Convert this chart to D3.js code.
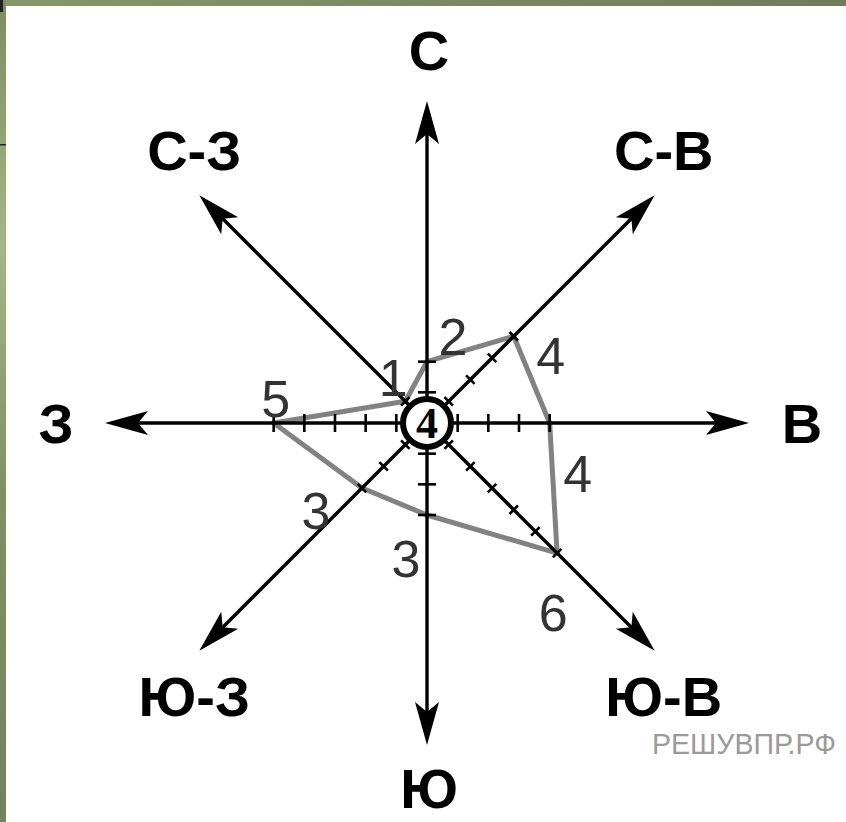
<!DOCTYPE html>
<html>
<head>
<meta charset="utf-8">
<script src="https://cdn.jsdelivr.net/npm/d3@7/dist/d3.min.js"></script>
<style>
    body { margin: 0; background: #fff; }
    svg { display: block; }
</style>
</head>
<body>
<div id="chart"></div>
<script>
// роза ветров: число дней с ветром каждого направления
var directions = ['С', 'С-В', 'В', 'Ю-В', 'Ю', 'Ю-З', 'З', 'С-З'];
var days = [2, 4, 4, 6, 3, 3, 5, 1];
var calm = 4; // штиль, в кружке
var angles = [0, 45, 90, 135, 180, 225, 270, 315];

// сдвиг подписи числа от вершины (px)
var labelShift = [[26, -25], [37, 19], [28, 50], [-4, 59], [-21, 43], [-46, 22], [2, -25], [-12, -24]];

var width = 846, height = 822;
var cx = 427, cy = 423;
var axisLen = 322;

var r = d3.scaleLinear().domain([0, 6]).range([0, 184]);

var svg = d3.select('#chart').append('svg')
    .attr('width', width)
    .attr('height', height);

var defs = svg.append('defs');
var gTop = defs.append('linearGradient').attr('id', 'gTop');
gTop.append('stop').attr('offset', '0%').attr('stop-color', '#85976a');
gTop.append('stop').attr('offset', '100%').attr('stop-color', '#6f7c5a');
var gLeft = defs.append('linearGradient').attr('id', 'gLeft')
    .attr('x1', 0).attr('y1', 0).attr('x2', 0).attr('y2', 1);
gLeft.append('stop').attr('offset', '0%').attr('stop-color', '#7d8c5f');
gLeft.append('stop').attr('offset', '30%').attr('stop-color', '#a3b785');
gLeft.append('stop').attr('offset', '60%').attr('stop-color', '#7f9065');
gLeft.append('stop').attr('offset', '100%').attr('stop-color', '#728360');

svg.append('rect').attr('width', width).attr('height', height).attr('fill', '#fff');
svg.append('rect').attr('x', 0).attr('y', 0).attr('width', width).attr('height', 6).attr('fill', 'url(#gTop)');
svg.append('rect').attr('x', 0).attr('y', 0).attr('width', 6).attr('height', height).attr('fill', 'url(#gLeft)');
svg.append('rect').attr('x', 0).attr('y', 0).attr('width', 3).attr('height', 12).attr('fill', '#222');
svg.append('rect').attr('x', 0).attr('y', 144).attr('width', 6).attr('height', 1.5).attr('fill', '#222');

function pt(angle, rad){
    var a = angle * Math.PI / 180;
    return [cx + rad * Math.sin(a), cy - rad * Math.cos(a)];
}

var data = directions.map(function(d, i){
    return {name: d, value: days[i], angle: angles[i], shift: labelShift[i]};
});

// многоугольник
svg.append('path')
    .attr('d', d3.line()(data.map(function(d){ return pt(d.angle, r(d.value)); })) + 'Z')
    .attr('fill', 'none')
    .attr('stroke', '#828282')
    .attr('stroke-width', 5)
    .attr('stroke-linejoin', 'round');

// оси со стрелками
var axes = svg.append('g');
data.forEach(function(d){
    var tip = pt(d.angle, axisLen);
    var end = pt(d.angle, axisLen - 30);
    axes.append('line')
        .attr('x1', cx).attr('y1', cy)
        .attr('x2', end[0]).attr('y2', end[1])
        .attr('stroke', '#000')
        .attr('stroke-width', 3.4);
    axes.append('path')
        .attr('d', 'M0,0L-43,-12L-33,0L-43,12Z')
        .attr('transform', 'translate(' + tip[0] + ',' + tip[1] + ') rotate(' + (d.angle - 90) + ')')
        .attr('fill', '#000');

    // засечки
    var half = d.angle % 90 == 0 ? 9 : 6;
    d3.range(1, d.value + 1).forEach(function(k){
        var p = pt(d.angle, r(k));
        axes.append('line')
            .attr('x1', -half).attr('x2', half)
            .attr('y1', 0).attr('y2', 0)
            .attr('transform', 'translate(' + p[0] + ',' + p[1] + ') rotate(' + d.angle + ')')
            .attr('stroke', '#000')
            .attr('stroke-width', 2.6);
    });
});

// кружок штиля
svg.append('circle')
    .attr('cx', cx).attr('cy', cy).attr('r', 24)
    .attr('fill', '#fff')
    .attr('stroke', '#000')
    .attr('stroke-width', 6);
svg.append('text')
    .attr('x', cx).attr('y', cy)
    .attr('dy', '0.34em')
    .attr('text-anchor', 'middle')
    .style('font-family', '"Liberation Serif", serif')
    .style('font-weight', 'bold')
    .style('font-size', '44px')
    .text(calm);

// подписи чисел
svg.append('g').selectAll('text')
    .data(data)
    .enter().append('text')
    .attr('x', function(d){ return pt(d.angle, r(d.value))[0] + d.shift[0]; })
    .attr('y', function(d){ return pt(d.angle, r(d.value))[1] + d.shift[1]; })
    .attr('dy', '0.36em')
    .attr('text-anchor', 'middle')
    .style('font-family', '"Liberation Sans", Arial, sans-serif')
    .style('font-size', '52px')
    .attr('fill', '#333')
    .text(function(d){ return d.value; });

// направления
svg.append('g').selectAll('text')
    .data(data)
    .enter().append('text')
    .attr('x', function(d){
        var a = d.angle * Math.PI / 180;
        var R = d.angle % 90 == 0 ? 373 : 332;
        return cx + 2 + R * Math.sin(a);
    })
    .attr('y', function(d){
        var a = d.angle * Math.PI / 180;
        var R = d.angle % 90 == 0 ? (d.angle == 180 ? 365 : 373) : 386;
        return cy - R * Math.cos(a);
    })
    .attr('dy', '0.36em')
    .attr('text-anchor', 'middle')
    .style('font-family', '"Liberation Sans", Arial, sans-serif')
    .style('font-weight', 'bold')
    .style('font-size', '56px')
    .attr('fill', '#000')
    .text(function(d){ return d.name; });

svg.append('text')
    .attr('x', 652).attr('y', 754)
    .attr('textLength', 184)
    .attr('lengthAdjust', 'spacingAndGlyphs')
    .style('font-family', '"Liberation Sans", Arial, sans-serif')
    .style('font-size', '30px')
    .attr('fill', '#9a9a9a')
    .text('РЕШУВПР.РФ');
</script>
</body>
</html>
